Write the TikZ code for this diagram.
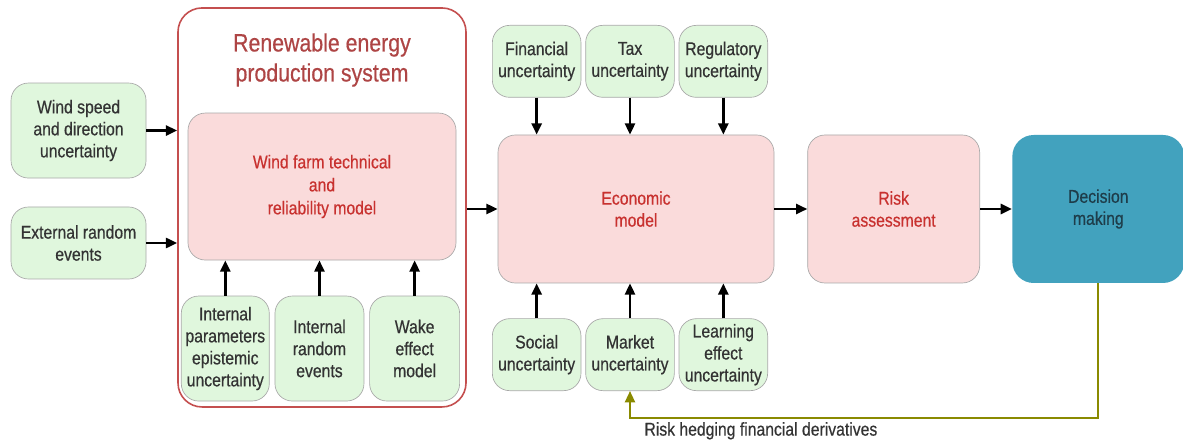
\documentclass[tikz,border=0pt]{standalone}
\usepackage{fontspec}
\setmainfont{Liberation Sans}[FakeStretch=0.85,FakeBold=0.5]
\usetikzlibrary{arrows.meta,positioning}

\definecolor{uncgreen}{HTML}{E0F7DD}
\definecolor{modpink}{HTML}{FADBDB}
\definecolor{modred}{HTML}{C8312F}
\definecolor{sysred}{HTML}{C44F4F}
\definecolor{titlered}{HTML}{AE4545}
\definecolor{decblue}{HTML}{42A2BE}
\definecolor{dectext}{HTML}{1E3D4A}
\definecolor{hedgeolive}{HTML}{8A8A00}
\definecolor{boxgray}{HTML}{A8A8A8}
\definecolor{txtgray}{HTML}{333333}

\begin{document}
\begin{tikzpicture}[
  font=\fontsize{13.9}{16.5}\selectfont,
  unc/.style={draw=boxgray, line width=0.5pt, fill=uncgreen, rounded corners=13pt,
              align=center, text=txtgray, minimum width=66.5pt, minimum height=54pt, inner sep=1pt},
  model/.style={draw=boxgray, line width=0.5pt, fill=modpink, rounded corners=13pt,
                align=center, text=modred, minimum height=111pt},
  arr/.style={-{Triangle[length=8.5pt,width=7.5pt]}, line width=2pt},
  fb/.style={-{Triangle[length=8.5pt,width=7.5pt]}, line width=1.6pt, draw=hedgeolive},
  node distance=27pt and 3pt
]
\useasboundingbox (0,0) rectangle (887.25pt,-331.5pt);

% production system container
\node[draw=sysred, line width=1.2pt, rounded corners=18pt, minimum width=216pt,
      minimum height=299.25pt] (sys) at (241.5pt,-155.6pt) {};
\node[text=titlered, align=center, font=\fontsize{18.8}{22.5}\selectfont] (title)
  at (241.5pt,-45pt) {Renewable energy\\production system};
\node[model, minimum width=201pt, minimum height=110.25pt,
      font=\fontsize{13.9}{17.25}\selectfont] (farm) at (241.5pt,-139.9pt)
  {Wind farm technical\\and\\reliability model};

\node[unc, minimum width=66.75pt, minimum height=78.75pt] (rand) at (239.6pt,-261.4pt)
  {Internal\\random\\events};
\node[unc, minimum width=66pt, minimum height=78.75pt, left=3.75pt of rand] (param)
  {Internal\\parameters\\epistemic\\uncertainty};
\node[unc, minimum width=67.5pt, minimum height=78.75pt, right=3.75pt of rand] (wake)
  {Wake\\effect\\model};

% external inputs
\node[unc, minimum width=101.25pt, minimum height=71.25pt] (wind) at (58.9pt,-97.9pt)
  {Wind speed\\and direction\\uncertainty};
\node[unc, minimum width=101.25pt] (ext) at (58.9pt,-182.25pt)
  {External random\\events};

% economic chain
\node[model, minimum width=207pt] (eco) at (477pt,-156.75pt) {Economic\\model};
\node[model, minimum width=129pt, right=24.75pt of eco] (risk) {Risk\\assessment};
\node[model, minimum width=129pt, right=24pt of risk, draw=none, fill=decblue,
      text=dectext, rounded corners=16pt] (dec) {Decision\\making};

\node[unc, above=27.75pt of eco, xshift=-4.5pt] (tax) {Tax\\uncertainty};
\node[unc, left=of tax] (fin) {Financial\\uncertainty};
\node[unc, right=of tax] (reg) {Regulatory\\uncertainty};

\node[unc, below=26.25pt of eco, xshift=-4.5pt] (mkt) {Market\\uncertainty};
\node[unc, left=of mkt] (soc) {Social\\uncertainty};
\node[unc, right=of mkt] (learn) {Learning\\effect\\uncertainty};

\draw[arr] (wind.east) -- (wind.east -| sys.west);
\draw[arr] (ext.east) -- (ext.east -| sys.west);
\foreach \n in {param,rand,wake}
  \draw[arr] (\n.north) -- (\n.north |- farm.south);
\draw[arr] (sys.east |- eco.west) -- (eco.west);
\foreach \n in {fin,tax,reg}
  \draw[arr] (\n.south) -- (\n.south |- eco.north);
\foreach \n in {soc,mkt,learn}
  \draw[arr] (\n.north) -- (\n.north |- eco.south);
\draw[arr] (eco) -- (risk);
\draw[arr] (risk) -- (dec);

% hedging feeds back into the market
\coordinate (fbturn) at (dec.south |- 0,-313.5pt);
\draw[fb] (dec.south) -- (fbturn) -| node[pos=0.5, anchor=north west, xshift=6.7pt,
  yshift=1pt, text=txtgray] {Risk hedging financial derivatives} (mkt.south);
\end{tikzpicture}
\end{document}
